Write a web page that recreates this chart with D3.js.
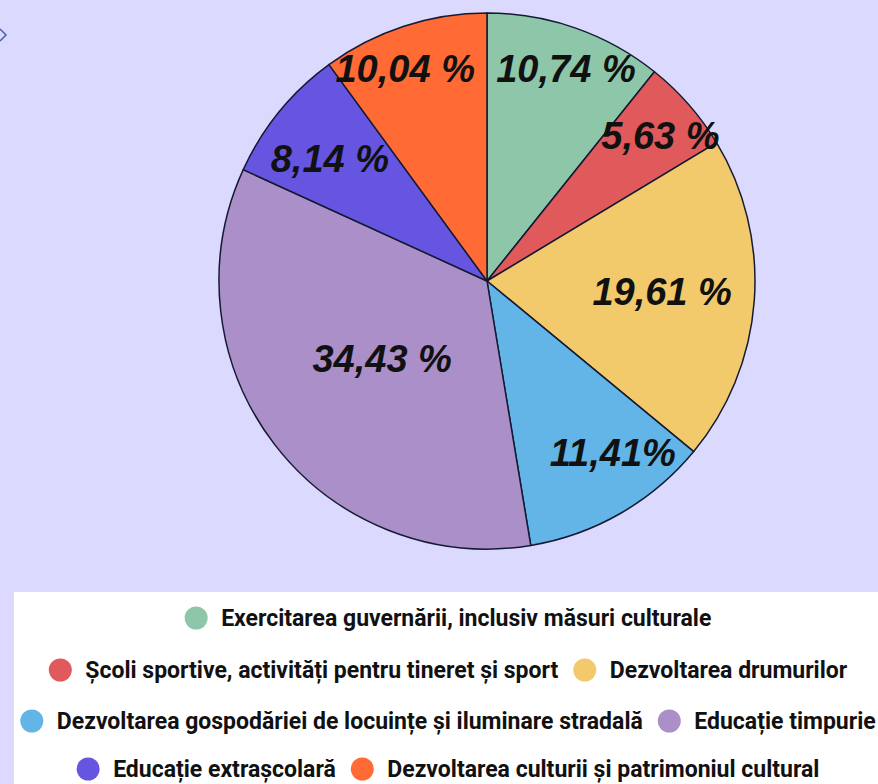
<!DOCTYPE html>
<html>
<head>
<meta charset="utf-8">
<script src="https://cdn.jsdelivr.net/npm/d3@7/dist/d3.min.js"></script>
<style>
  html, body { margin: 0; padding: 0; background: #dbd9fd; }
  svg { display: block; }
</style>
</head>
<body>
<svg id="chart" width="878" height="784"></svg>
<script>
// ---- data ----
const categories = [
  "Exercitarea guvernării, inclusiv măsuri culturale",
  "Școli sportive, activități pentru tineret și sport",
  "Dezvoltarea drumurilor",
  "Dezvoltarea gospodăriei de locuințe și iluminare stradală",
  "Educație timpurie",
  "Educație extrașcolară",
  "Dezvoltarea culturii și patrimoniul cultural"
];
const values = [10.74, 5.63, 19.61, 11.41, 34.43, 8.14, 10.04];
const valueLabels = ["10,74 %", "5,63 %", "19,61 %", "11,41%", "34,43 %", "8,14 %", "10,04 %"];
const legendRows = [[0], [1, 2], [3, 4], [5, 6]];

// ---- styles ----
const colors = ["#8ec6a9", "#e0595b", "#f2c96b", "#62b5e6", "#ab8fc9", "#6655e0", "#ff6a35"];
const labelRadiusFactor = [0.84, 0.84, 0.655, 0.80, 0.49, 0.74, 0.845];
const labelAngleShift = [1.2, 1.6, -0.3, -6, 0.4, -1.6, -3.1]; // degrees

const svg = d3.select("#chart");
const W = 878, H = 784;
const cx = 487, cy = 281, R = 268;

svg.append("rect").attr("width", W).attr("height", H).attr("fill", "#dbd9fd");

// small diamond artifact at top-left
svg.append("path")
  .attr("d", "M0,29 L6,35 L0,41")
  .attr("fill", "none").attr("stroke", "#4a5fa8").attr("stroke-width", 1.5);

const pie = d3.pie().sort(null).value(d => d)(values);
const arc = d3.arc().innerRadius(0).outerRadius(R);

const g = svg.append("g").attr("transform", `translate(${cx},${cy})`);
g.selectAll("path.slice").data(pie).join("path")
  .attr("class", "slice")
  .attr("d", arc)
  .attr("fill", (d, i) => colors[i])
  .attr("stroke", "#141a33")
  .attr("stroke-width", 1.5)
  .attr("stroke-linejoin", "round");

g.selectAll("text.lbl").data(pie).join("text")
  .attr("class", "lbl")
  .attr("transform", (d, i) => {
    const a = (d.startAngle + d.endAngle) / 2 + labelAngleShift[i] * Math.PI / 180;
    const r = R * labelRadiusFactor[i];
    return `translate(${r * Math.sin(a)},${-r * Math.cos(a)})`;
  })
  .attr("text-anchor", "middle")
  .attr("dy", "0.31em")
  .attr("font-family", "'Liberation Sans', Arial, sans-serif")
  .attr("font-weight", "bold")
  .attr("font-style", "italic")
  .attr("font-size", 38)
  .attr("fill", "#111111")
  .text((d, i) => valueLabels[i]);

// ---- legend ----
const legendX = 14, legendY = 592;
svg.append("rect")
  .attr("x", legendX).attr("y", legendY)
  .attr("width", W - legendX).attr("height", H - legendY)
  .attr("fill", "#ffffff");

const rowY = [618, 670, 721, 769];
const dotR = 11.5, dotGap = 25, itemGap = 15;
const legendCenter = 448;
const lg = svg.append("g");
legendRows.forEach((row, ri) => {
  const rg = lg.append("g");
  let x = 0;
  row.forEach(idx => {
    rg.append("circle")
      .attr("cx", x + dotR).attr("cy", rowY[ri]).attr("r", dotR)
      .attr("fill", colors[idx]);
    const t = rg.append("text")
      .attr("x", x + dotR + dotGap).attr("y", rowY[ri])
      .attr("dy", "0.35em")
      .attr("font-family", "Roboto, 'Liberation Sans', sans-serif")
      .attr("font-weight", "bold")
      .attr("font-size", 23)
      .attr("fill", "#111111")
      .text(categories[idx]);
    const w = t.node().getComputedTextLength();
    x = x + dotR + dotGap + w + itemGap;
  });
  const total = x - itemGap;
  rg.attr("transform", `translate(${legendCenter - total / 2},0)`);
});
</script>
</body>
</html>
